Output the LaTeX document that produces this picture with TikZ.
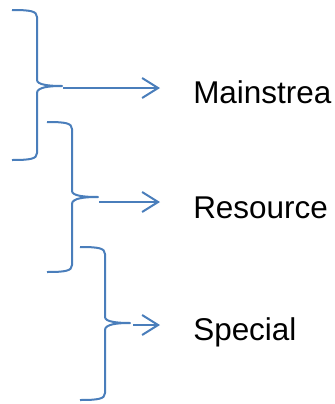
\documentclass[tikz,border=0pt]{standalone}
\usepackage{fontspec}
\setmainfont{Liberation Sans}
\usetikzlibrary{arrows.meta}
\definecolor{brblue}{RGB}{74,126,187}

\begin{document}
\begin{tikzpicture}[x=0.75pt,y=-0.75pt,
    brc/.style={draw=brblue,line width=1.5pt,line join=round},
    arr/.style={brc,-{Straight Barb[length=12pt,width=15pt,line width=1.5pt]}},
    lbl/.style={anchor=base west,inner sep=0pt,font=\fontsize{23.6}{28}\selectfont}] % pixel units, y downwards

  \useasboundingbox (0,0) rectangle (335,404);

  % the three braces
  \draw[brc] (12,10) .. controls (30,10) and (37,11) .. (37,17) -- (37,80)
    .. controls (37,85) and (50,86) .. (62,86) coordinate (tip1)
    .. controls (50,86) and (37,87) .. (37,93) -- (37,153)
    .. controls (37,159) and (30,160) .. (12,160);
  \draw[brc] (47,122) .. controls (65,122) and (72,123) .. (72,129) -- (72,191)
    .. controls (72,196) and (85,197) .. (98,197) coordinate (tip2)
    .. controls (85,197) and (72,198) .. (72,204) -- (72,265)
    .. controls (72,271) and (65,272) .. (47,272);
  \draw[brc] (80,247) .. controls (98,247) and (105,248) .. (105,254) -- (105,317)
    .. controls (105,322) and (118,323) .. (130,323) coordinate (tip3)
    .. controls (118,323) and (105,324) .. (105,330) -- (105,393)
    .. controls (105,399) and (98,400) .. (80,400);

  \coordinate (s1) at (63,88);
  \coordinate (s2) at (99,202);
  \coordinate (s3) at (133,325);
  \coordinate (e1) at (160,88);
  \coordinate (e2) at (160,202);
  \coordinate (e3) at (160,325);

  \node[lbl] (main) at (193,103) {Mainstrea};
  \node[lbl] (res) at (193,218) {Resource};
  \node[lbl] (spec) at (193,340) {Special};

  \draw[arr] (s1) -- (e1);
  \draw[arr] (s2) -- (e2);
  \draw[arr] (s3) -- (e3);

\end{tikzpicture}
\end{document}
